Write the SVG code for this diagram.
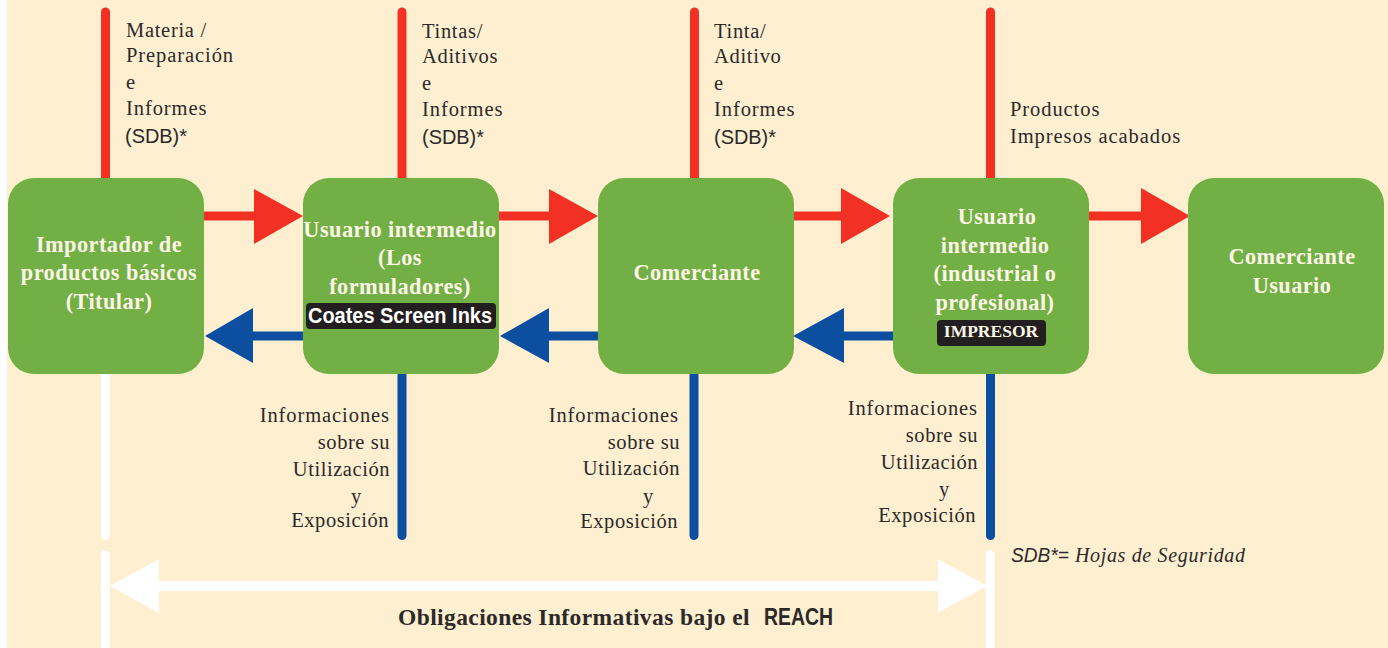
<svg xmlns="http://www.w3.org/2000/svg" width="1388" height="648" viewBox="0 0 1388 648">
<style>
.box{fill:#72af44}
.t{font-family:"Liberation Serif",serif;font-size:20.5px;fill:#2b2a29;letter-spacing:.7px}
.w{letter-spacing:.92px}
.c{letter-spacing:.55px}
.s{font-family:"Liberation Sans",sans-serif;font-size:21px;fill:#2b2a29}
.n{font-family:"Liberation Serif",serif;font-size:22.3px;font-weight:bold;fill:#fdf6e6;text-anchor:middle;letter-spacing:.45px}
.r{text-anchor:end}
.red{stroke:#f23024;fill:none}
.blue{stroke:#0c4ea0;fill:none}
.white{stroke:#fff;fill:none}
</style>
<rect width="1388" height="648" fill="#feefd1"/>
<rect width="7" height="648" fill="#fff"/>
<g id="connectors" stroke-width="9" stroke-linecap="round">
<path class="red" d="M105.500 12V180M402 12V180M694.500 12V180M990.500 12V180"/>
<path class="blue" d="M402 372V535.500M694 372V535.500M990.500 372V535.500"/>
<path class="white" d="M105.500 372V535.500M105.500 555V660M990 555V660"/>
<path class="red" stroke-linecap="butt" d="M200 216H260M495 216H555M790 216H850M1085 216H1150"/>
<path class="blue" stroke-linecap="butt" d="M250 336H305M545 336H600M840 336H895"/>
<path d="M155 586H940" class="white" stroke-width="10" stroke-linecap="butt"/>
<g stroke="none">
<path fill="#f23024" d="M254 189L303 216L254 244ZM549 189L598 216L549 244ZM841 188L890 216L841 244ZM1141 188L1190 216L1141 244Z"/>
<path fill="#0c4ea0" d="M253 308L205 336L253 363ZM549 308L500 336L549 363ZM844 308L793 336L844 363Z"/>
<path fill="#fff" d="M159 559L110 586L159 613ZM938 559L987 586L938 613Z"/>
</g>
</g>
<g id="n1"><rect class="box" x="8" y="178" width="196" height="196" rx="26"/><text class="n" x="109" y="252">Importador de</text><text class="n" x="109" y="280">productos básicos</text><text class="n" x="109" y="309">(Titular)</text></g>
<g id="n2"><rect class="box" x="303" y="178" width="196" height="196" rx="26"/><text class="n" x="400" y="237">Usuario intermedio</text><text class="n" x="400" y="265">(Los</text><text class="n" x="400" y="294">formuladores)</text><rect x="306" y="303" width="190" height="26" rx="4" fill="#231f20"/><text x="400" y="323" font-family="Liberation Sans,sans-serif" font-weight="bold" font-size="22" fill="#fff" text-anchor="middle" textLength="184" lengthAdjust="spacingAndGlyphs">Coates Screen Inks</text></g>
<g id="n3"><rect class="box" x="598" y="178" width="196" height="196" rx="26"/><text class="n" x="697" y="280">Comerciante</text></g>
<g id="n4"><rect class="box" x="893" y="178" width="196" height="196" rx="26"/><text class="n" x="997" y="224">Usuario</text><text class="n" x="995" y="253">intermedio</text><text class="n" x="995" y="281">(industrial o</text><text class="n" x="995" y="310">profesional)</text><rect x="937" y="320" width="109" height="26" rx="4" fill="#231f20"/><text x="991" y="337" font-family="Liberation Serif,serif" font-weight="bold" font-size="17.500" fill="#fdf6e6" text-anchor="middle">IMPRESOR</text></g>
<g id="n5"><rect class="box" x="1188" y="178" width="196" height="196" rx="26"/><text class="n" x="1292" y="264">Comerciante</text><text class="n" x="1292" y="293">Usuario</text></g>
<g id="labels">
<text class="t" x="126" y="37">Materia /</text><text class="t w" x="126" y="62">Preparación</text><text class="t" x="126" y="89">e</text><text class="t w" x="126" y="115">Informes</text><text class="s" x="125" y="143" textLength="62" lengthAdjust="spacingAndGlyphs">(SDB)*</text>
<text class="t" x="422" y="38">Tintas/</text><text class="t" x="422" y="63">Aditivos</text><text class="t" x="422" y="90">e</text><text class="t w" x="422" y="116">Informes</text><text class="s" x="422" y="144" textLength="62" lengthAdjust="spacingAndGlyphs">(SDB)*</text>
<text class="t" x="714" y="38">Tinta/</text><text class="t" x="714" y="63">Aditivo</text><text class="t" x="714" y="90">e</text><text class="t w" x="714" y="116">Informes</text><text class="s" x="714" y="144" textLength="62" lengthAdjust="spacingAndGlyphs">(SDB)*</text>
<text class="t w" x="1010" y="116">Productos</text><text class="t w" x="1010" y="143">Impresos acabados</text>
<text class="t w r" x="390" y="422">Informaciones</text><text class="t c r" x="390" y="449">sobre su</text><text class="t c r" x="390" y="476">Utilización</text><text class="t" x="351" y="503">y</text><text class="t c r" x="389" y="527">Exposición</text>
<text class="t w r" x="679" y="422">Informaciones</text><text class="t c r" x="680" y="449">sobre su</text><text class="t c r" x="680" y="475">Utilización</text><text class="t" x="643" y="503">y</text><text class="t c r" x="678" y="528">Exposición</text>
<text class="t w r" x="978" y="415">Informaciones</text><text class="t c r" x="978" y="442">sobre su</text><text class="t c r" x="978" y="469">Utilización</text><text class="t" x="939" y="496">y</text><text class="t c r" x="976" y="522">Exposición</text>
<text x="1011" y="562" font-family="Liberation Sans,sans-serif" font-style="italic" font-size="21" fill="#2b2a29" textLength="58" lengthAdjust="spacingAndGlyphs">SDB*=</text>
<text x="1075" y="562" font-family="Liberation Serif,serif" font-style="italic" font-size="20" fill="#2b2a29" textLength="170">Hojas de Seguridad</text>
<text x="398" y="625" font-family="Liberation Serif,serif" font-weight="bold" font-size="23.500" letter-spacing=".4" fill="#2b2a29">Obligaciones Informativas bajo el</text>
<text x="764" y="625" font-family="Liberation Sans,sans-serif" font-weight="bold" font-size="23" fill="#2b2a29" textLength="69" lengthAdjust="spacingAndGlyphs">REACH</text>
</g>
</svg>
